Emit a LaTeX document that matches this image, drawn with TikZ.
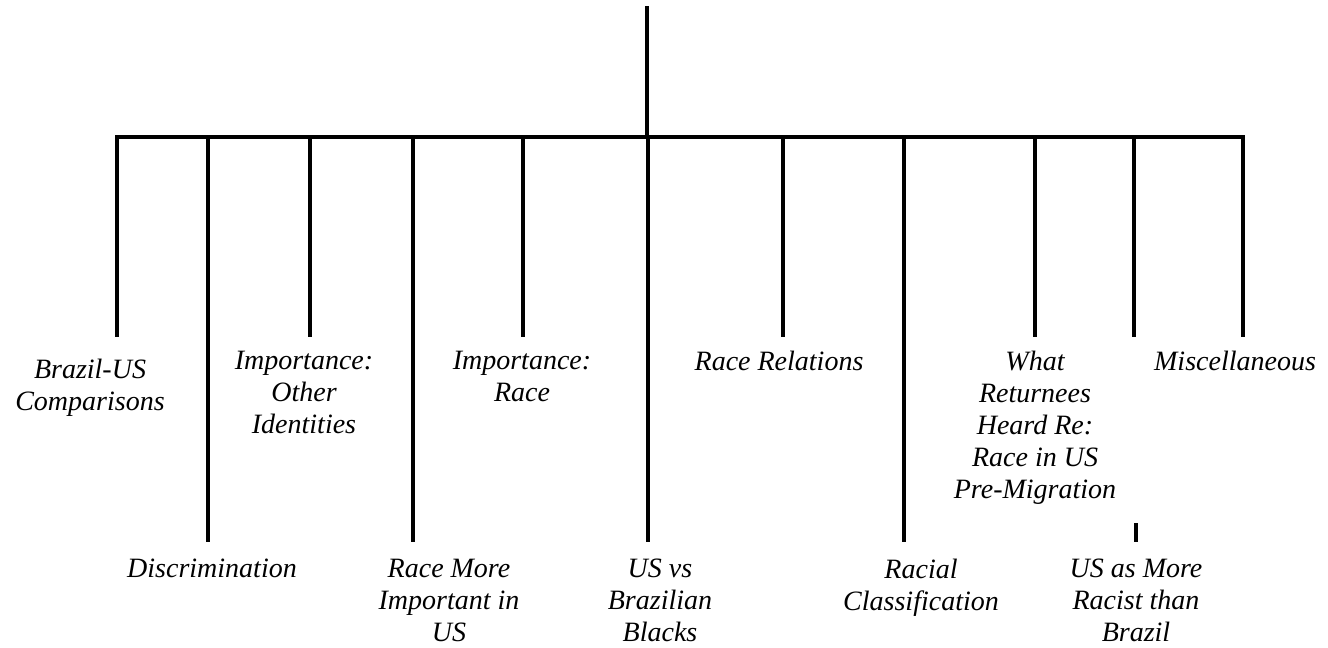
\documentclass[tikz,border=0pt]{standalone}
\usepackage{fontspec}
\setmainfont{Liberation Serif}
\begin{document}
\begin{tikzpicture}[x=0.75pt,y=-0.75pt,
  conn/.style={line width=2.5pt,line cap=rect},
  lab/.style={font=\fontsize{21}{24}\selectfont\itshape, align=center, anchor=north, inner xsep=0pt},
  toplab/.style={lab, inner ysep=12pt},
  botlab/.style={lab, inner ysep=14.25pt}]
\useasboundingbox (0,0) rectangle (1328,647);
% coordinates on the bar
\coordinate (root) at (647,8);
\coordinate (bc) at (647,137);
\coordinate (b1) at (117,137);
\coordinate (b2) at (208,137);
\coordinate (b3) at (310,137);
\coordinate (b4) at (413,137);
\coordinate (b5) at (523,137);
\coordinate (b6) at (648,137);
\coordinate (b7) at (783,137);
\coordinate (b8) at (904,137);
\coordinate (b9) at (1035,137);
\coordinate (b10) at (1134,137);
\coordinate (b11) at (1243,137);
\coordinate (e1) at (117,335);
% labels
\node[lab, inner ysep=17.5pt] (l1) at (90,335) {Brazil-US\\Comparisons};
\node[botlab] (l2) at (212,540) {Discrimination};
\node[toplab] (l3) at (304,335) {Importance:\\Other\\Identities};
\node[botlab] (l4) at (449,540) {Race More\\Important in\\US};
\node[toplab] (l5) at (522,335) {Importance:\\Race};
\node[botlab] (l6) at (660,540) {US vs\\Brazilian\\Blacks};
\node[toplab] (l7) at (779,335) {Race Relations};
\node[botlab] (l8) at (921,540) {Racial\\Classification};
\node[toplab] (l9) at (1035,335) {What\\Returnees\\Heard Re:\\Race in US\\Pre-Migration};
\node[botlab] (l10) at (1136,540) {US as More\\Racist than\\Brazil};
\node[toplab] (l11) at (1235,335) {Miscellaneous};
% connectors
\draw[conn] (root) -- (bc);
\draw[conn] (b1) -- (b11);
\draw[conn] (b1) -- (e1);
\draw[conn] (b2) -- (b2 |- l2.north);
\draw[conn] (b3) -- (b3 |- l3.north);
\draw[conn] (b4) -- (b4 |- l4.north);
\draw[conn] (b5) -- (b5 |- l5.north);
\draw[conn] (b6) -- (b6 |- l6.north);
\draw[conn] (b7) -- (b7 |- l7.north);
\draw[conn] (b8) -- (b8 |- l8.north);
\draw[conn] (b9) -- (b9 |- l9.north);
\draw[conn] (b10) -- (b10 |- l9.north);
\draw[conn] (l10.north) -- ++(0,-15);
\draw[conn] (b11) -- (b11 |- l11.north);
\end{tikzpicture}
\end{document}
